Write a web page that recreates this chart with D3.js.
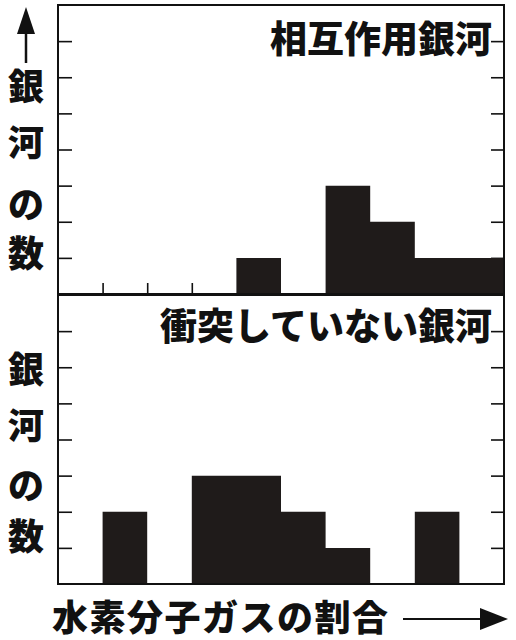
<!DOCTYPE html>
<html><head><meta charset="utf-8">
<script src="https://cdn.jsdelivr.net/npm/d3@7"></script>
<style>body{margin:0;background:#fff}svg{display:block}</style>
</head><body>
<svg id="c" width="516" height="640"></svg>
<script>
const bins = [0,1,2,3,4,5,6,7,8,9];
const interacting = [0,0,0,0,1,0,3,2,1,1];
const nonColliding = [0,2,0,3,3,2,1,0,2,0];
const yTicks = [1,2,3,4,5,6,7];
const titleTop = "相互作用銀河";
const titleBottom = "衝突していない銀河";
const yLabelChars = ["銀","河","の","数"];
const xLabel = "水素分子ガスの割合";

const svg = d3.select("#c");
const font = "'Noto Sans CJK JP','Noto Sans CJK SC',sans-serif";
const barColor = "#1f1b1a";
const x = d3.scaleLinear().domain([0,10]).range([58,504]);

const panels = [
  {data: interacting, y: d3.scaleLinear().domain([0,8]).range([294,5]), title: titleTop, titleY: 37, labelY: [84,140,202,251], xticks: true},
  {data: nonColliding, y: d3.scaleLinear().domain([0,8]).range([584,295]), title: titleBottom, titleY: 324, labelY: [367,423,483,534], xticks: false}
];

panels.forEach(p => {
  const g = svg.append("g");
  // ticks
  const la = g.append("g").attr("transform",`translate(${x(0)},0)`)
    .call(d3.axisLeft(p.y).tickValues(yTicks).tickSize(-14).tickFormat(""));
  const ra = g.append("g").attr("transform",`translate(${x(10)},0)`)
    .call(d3.axisRight(p.y).tickValues(yTicks).tickSize(-13).tickFormat(""));
  [la,ra].forEach(a => {a.select(".domain").remove(); a.selectAll("line").attr("stroke","#111").attr("stroke-width",1.6);});
  if (p.xticks) {
    const ba = g.append("g").attr("transform",`translate(0,${p.y(0)})`)
      .call(d3.axisBottom(x).tickValues([1,2,3]).tickSize(-11).tickFormat(""));
    ba.select(".domain").remove();
    ba.selectAll("line").attr("stroke","#111").attr("stroke-width",1.6);
  }
  // histogram as one stepped shape (no seams between adjacent bars)
  const edges = bins.concat([bins.length]);
  const area = d3.area()
    .x(i => x(i))
    .y0(p.y(0))
    .y1(i => p.y(p.data[Math.min(i, bins.length-1)]))
    .curve(d3.curveStepAfter);
  g.append("path").attr("d", area(edges)).attr("fill", barColor);
  // frame
  g.append("rect").attr("x",x(0)).attr("y",p.y(8)).attr("width",x(10)-x(0)).attr("height",p.y(0)-p.y(8))
    .attr("fill","none").attr("stroke","#111").attr("stroke-width",2);
  // title
  g.append("text").attr("x",492).attr("y",p.titleY).attr("text-anchor","end").attr("dominant-baseline","central")
    .attr("font-family",font).attr("font-weight",900).attr("font-size",37).attr("fill","#111").text(p.title);
  // y label
  g.selectAll("text.yl").data(yLabelChars).join("text").attr("class","yl")
    .attr("x",26).attr("y",(d,i)=>p.labelY[i]).attr("text-anchor","middle").attr("dominant-baseline","central")
    .attr("font-family",font).attr("font-weight",900).attr("font-size",36).attr("fill","#111").text(d=>d);
});

// y arrow
svg.append("line").attr("x1",26).attr("y1",63).attr("x2",26).attr("y2",30).attr("stroke","#111").attr("stroke-width",2.5);
svg.append("polygon").attr("points","17,34 35,34 26,7").attr("fill","#111");

// x label
svg.append("text").attr("x",52).attr("y",615).attr("dominant-baseline","central")
  .attr("font-family",font).attr("font-weight",900).attr("font-size",36).attr("letter-spacing",1.5).attr("fill","#111").text(xLabel);
// x arrow
svg.append("line").attr("x1",403).attr("y1",619).attr("x2",484).attr("y2",619).attr("stroke","#111").attr("stroke-width",2);
svg.append("polygon").attr("points","480,608 480,630 508,619").attr("fill","#111");
</script>
</body></html>
